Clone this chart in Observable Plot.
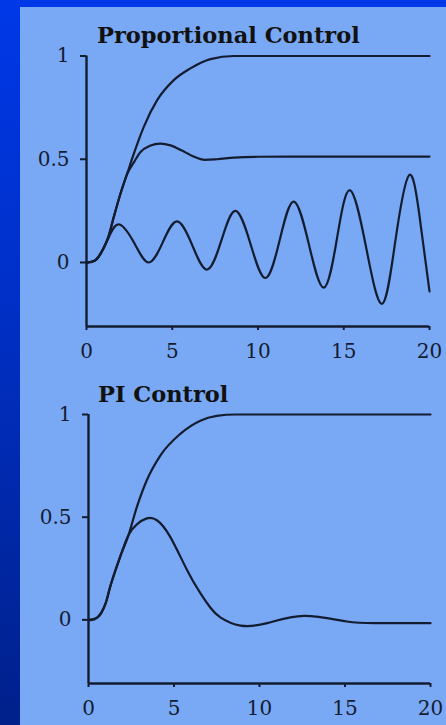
<!DOCTYPE html>
<html>
<head>
<meta charset="utf-8">
<script src="https://cdn.jsdelivr.net/npm/d3@7"></script>
<script src="https://cdn.jsdelivr.net/npm/@observablehq/plot@0.6"></script>
<style>
  html, body { margin: 0; padding: 0; }
  body {
    width: 446px; height: 725px; overflow: hidden; position: relative;
    background: linear-gradient(to bottom, #0038e8 0%, #0030c8 40%, #00208a 100%);
  }
  #panel { position: absolute; left: 20px; top: 7px; width: 426px; height: 718px; background: #79a8f5; }
  .title { position: absolute; font-family: "DejaVu Serif", serif; font-weight: bold; font-size: 22.5px; line-height: normal; color: #111; white-space: nowrap; }
  .chart { position: absolute; left: 0; }
</style>
</head>
<body>
<div id="panel">
  <div class="title" id="t1" style="left:77px; top:15px;">Proportional Control</div>
  <div class="title" id="t2" style="left:78px; top:374px;">PI Control</div>
  <div class="chart" id="c1" style="top:0px;"></div>
  <div class="chart" id="c2" style="top:355px;"></div>
</div>
<script>
// ---- data ----
const xTicks = [0, 5, 10, 15, 20];
const yTicks = [0, 0.5, 1];
const yTickLabels = ["0", "0.5", "1"];
const yDomain = [-0.31, 1];

// Proportional control: reference / setpoint-like response
const propRefT = [0, 0.5, 1.0, 1.3, 1.59, 1.98, 2.37, 2.76, 3.34, 4.12, 5.09, 6.06, 7.23, 8.6, 10, 15, 20];
const propRefY = [0, 0.01, 0.07, 0.13, 0.22, 0.333, 0.43, 0.527, 0.657, 0.786, 0.883, 0.94, 0.985, 1.0, 1.0, 1.0, 1.0];
// Proportional control: moderate gain
const propMidT = [0, 0.5, 1.0, 1.3, 1.59, 1.98, 2.37, 2.8, 3.15, 3.7, 4.31, 4.9, 5.5, 6.2, 6.9, 7.6, 8.6, 10, 15, 20];
const propMidY = [0, 0.01, 0.07, 0.13, 0.22, 0.333, 0.428, 0.49, 0.535, 0.565, 0.576, 0.567, 0.545, 0.515, 0.497, 0.5, 0.508, 0.512, 0.513, 0.513];
// Proportional control: high gain, growing oscillation
const propOscT = [0, 0.5, 1.0, 1.4, 1.94, 2.8, 3.63, 4.46, 5.29, 6.17, 7.04, 7.87, 8.69, 9.57, 10.44, 11.27, 12.09, 12.97, 13.84, 14.6, 15.36, 16.3, 17.24, 18.02, 18.8, 19.4, 20];
const propOscY = [0, 0.01, 0.07, 0.14, 0.184, 0.092, 0.0, 0.1, 0.199, 0.083, -0.034, 0.108, 0.25, 0.088, -0.075, 0.11, 0.295, 0.087, -0.122, 0.114, 0.35, 0.075, -0.2, 0.111, 0.422, 0.236, -0.14];

// PI control
const piRefT = [0, 0.5, 1.0, 1.27, 1.85, 2.34, 2.83, 3.41, 4.2, 5.37, 6.54, 7.5, 8.6, 10, 15, 20];
const piRefY = [0, 0.01, 0.08, 0.162, 0.307, 0.413, 0.55, 0.68, 0.8, 0.906, 0.97, 0.993, 1.0, 1.0, 1.0, 1.0];
const piCtlT = [0, 0.5, 1.0, 1.27, 1.85, 2.34, 2.83, 3.41, 4.0, 4.78, 5.76, 6.54, 7.12, 7.71, 8.89, 10.45, 12.6, 15.1, 17, 20];
const piCtlY = [0, 0.01, 0.08, 0.162, 0.307, 0.413, 0.465, 0.494, 0.485, 0.404, 0.243, 0.13, 0.06, 0.012, -0.028, -0.016, 0.019, -0.008, -0.016, -0.016];

const ink = "#141c30";
const font = '"DejaVu Serif", serif';

function toRows(ts, ys) { return ts.map((t, i) => ({t, y: ys[i]})); }

function makeChart(series, opts) {
  return Plot.plot({
    width: 426,
    height: opts.height,
    marginLeft: opts.ml,
    marginRight: opts.mr,
    marginTop: opts.mt,
    marginBottom: opts.mb,
    style: {background: "transparent", fontFamily: font, fontSize: "20px", color: ink, overflow: "visible"},
    x: {domain: [0, 20]},
    y: {domain: yDomain},
    marks: [
      Plot.ruleX([0], {stroke: ink, strokeWidth: 2.4}),
      Plot.ruleY([yDomain[0]], {stroke: ink, strokeWidth: 2.4}),
      Plot.axisX({ticks: xTicks, tickSize: 4, tickPadding: 13, stroke: ink, strokeWidth: 2, fill: ink, label: null, tickFormat: d => String(d)}),
      Plot.axisY({ticks: yTicks, tickSize: 6, tickPadding: 11, stroke: ink, strokeWidth: 2, fill: ink, label: null, tickFormat: d => yTickLabels[yTicks.indexOf(d)]}),
      ...series.map(s => Plot.line(toRows(s.t, s.y), {x: "t", y: "y", stroke: ink, strokeWidth: 2.2, curve: s.curve || "monotone-x"}))
    ]
  });
}

document.getElementById("c1").appendChild(makeChart([
  {t: propRefT, y: propRefY},
  {t: propMidT, y: propMidY},
  {t: propOscT, y: propOscY, curve: "natural"}
], {height: 355, ml: 66, mr: 17, mt: 48.5, mb: 36}));

document.getElementById("c2").appendChild(makeChart([
  {t: piRefT, y: piRefY},
  {t: piCtlT, y: piCtlY, curve: "natural"}
], {height: 363, ml: 68, mr: 16, mt: 52, mb: 42}));
</script>
</body>
</html>
